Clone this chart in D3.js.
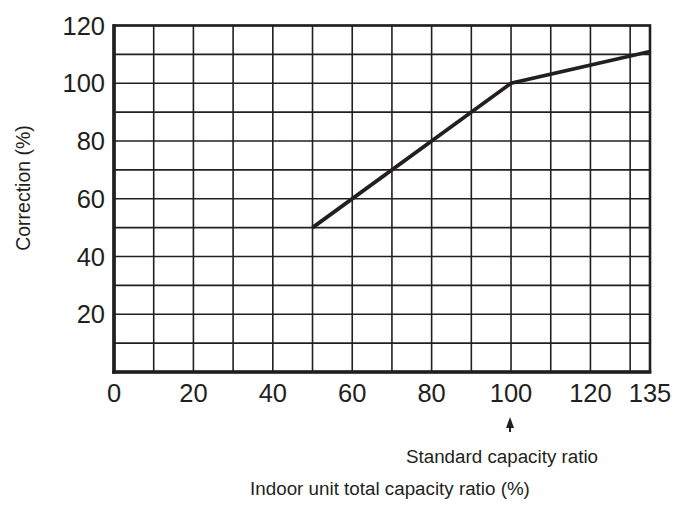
<!DOCTYPE html>
<html><head><meta charset="utf-8">
<script src="https://cdn.jsdelivr.net/npm/d3@7"></script>
<style>body{margin:0;background:#fff}svg{display:block}text{font-family:"Liberation Sans",Arial,Helvetica,sans-serif;fill:#231f20}</style>
</head><body>
<script>
const ratioX = [50, 100, 135];
const correctionY = [50, 100, 111];
const xTickLabels = [0, 20, 40, 60, 80, 100, 120, 135];
const yTickLabels = [20, 40, 60, 80, 100, 120];
const xGrid = d3.range(0, 140, 10);
const yGrid = d3.range(0, 130, 10);
const markerX = 100;

const W = 678, H = 505;
const svg = d3.select("body").append("svg").attr("width", W).attr("height", H);
const x = d3.scaleLinear().domain([0, 135]).range([114, 650]);
const y = d3.scaleLinear().domain([0, 120]).range([372, 25.5]);
const ink = "#231f20";

const g = svg.append("g");
g.selectAll("line.vx").data(xGrid).join("line")
  .attr("x1", d => x(d)).attr("x2", d => x(d)).attr("y1", y(0)).attr("y2", y(120))
  .attr("stroke", ink).attr("stroke-width", 1.6);
g.selectAll("line.hy").data(yGrid).join("line")
  .attr("y1", d => y(d)).attr("y2", d => y(d)).attr("x1", x(0)).attr("x2", x(135))
  .attr("stroke", ink).attr("stroke-width", 1.6);

// frame
g.append("rect").attr("x", x(0)).attr("y", y(120)).attr("width", x(135) - x(0)).attr("height", y(0) - y(120))
  .attr("fill", "none").attr("stroke", ink).attr("stroke-width", 2.6);
g.append("line").attr("x1", x(0)).attr("x2", x(0)).attr("y1", y(120) - 1.3).attr("y2", y(0) + 1.8)
  .attr("stroke", ink).attr("stroke-width", 3.6);
g.append("line").attr("x1", x(0) - 1.8).attr("x2", x(135) + 1.3).attr("y1", y(0)).attr("y2", y(0))
  .attr("stroke", ink).attr("stroke-width", 3.6);

// data line
const pts = ratioX.map((v, i) => [v, correctionY[i]]);
g.append("path").datum(pts)
  .attr("d", d3.line().x(d => x(d[0])).y(d => y(d[1])))
  .attr("fill", "none").attr("stroke", ink).attr("stroke-width", 3.8).attr("stroke-linejoin", "miter");

// axes tick labels
svg.selectAll("text.xt").data(xTickLabels).join("text")
  .attr("x", d => x(d)).attr("y", 402).attr("text-anchor", "middle")
  .attr("font-size", 25.5).text(d => d);
svg.selectAll("text.yt").data(yTickLabels).join("text")
  .attr("x", 105).attr("y", d => y(d) + 9).attr("text-anchor", "end")
  .attr("font-size", 25.5).text(d => d);

// arrow
const ax = x(markerX) - 1;
svg.append("line").attr("x1", ax).attr("x2", ax).attr("y1", 424).attr("y2", 432)
  .attr("stroke", ink).attr("stroke-width", 2);
svg.append("path")
  .attr("d", `M${ax},417 L${ax - 4},428 L${ax + 4},428 Z`)
  .attr("fill", ink);

svg.append("text").attr("x", 502).attr("y", 463).attr("text-anchor", "middle")
  .attr("font-size", 18.8).text("Standard capacity ratio");
svg.append("text").attr("x", 390).attr("y", 495).attr("text-anchor", "middle")
  .attr("font-size", 18.8).text("Indoor unit total capacity ratio (%)");
svg.append("text").attr("transform", "translate(30,188) rotate(-90)").attr("text-anchor", "middle")
  .attr("font-size", 19.5).text("Correction (%)");
</script>
</body></html>
